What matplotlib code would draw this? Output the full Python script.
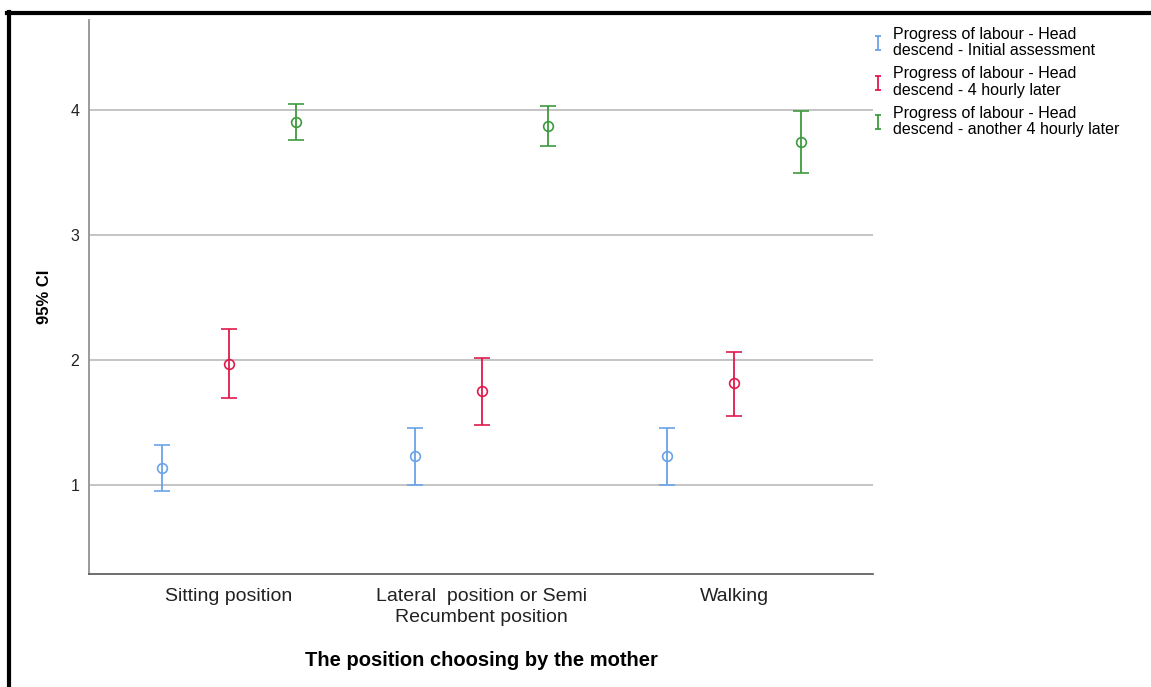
import matplotlib
matplotlib.use("Agg")
import matplotlib.pyplot as plt
from matplotlib.lines import Line2D
from matplotlib.path import Path
import numpy as np

plt.rcParams['font.family'] = ['Liberation Sans', 'DejaVu Sans']

categories = ["Sitting position", "Lateral  position or Semi\nRecumbent position", "Walking"]
series_names = [
    "Progress of labour - Head\ndescend - Initial assessment",
    "Progress of labour - Head\ndescend - 4 hourly later",
    "Progress of labour - Head\ndescend - another 4 hourly later",
]
colors = ["#6BA3E8", "#E01A4C", "#3E9A3E"]

# means and 95% CI bounds per series (rows) and category (columns)
initial_mean = [1.136, 1.232, 1.232]
initial_low = [0.952, 1.000, 1.000]
initial_high = [1.320, 1.456, 1.454]

later4_mean = [1.968, 1.752, 1.813]
later4_low = [1.696, 1.480, 1.555]
later4_high = [2.248, 2.016, 2.067]

later8_mean = [3.904, 3.872, 3.746]
later8_low = [3.760, 3.712, 3.494]
later8_high = [4.048, 4.032, 3.992]

means = [initial_mean, later4_mean, later8_mean]
lows = [initial_low, later4_low, later8_low]
highs = [initial_high, later4_high, later8_high]
offsets = [-0.265, 0.0, 0.265]

fig = plt.figure(figsize=(11.51, 6.87), dpi=100)
ax = fig.add_axes([89/1151, 1-574/687, (873-89)/1151, (574-20)/687])

x = np.arange(len(categories))
for m, lo, hi, c, off in zip(means, lows, highs, colors, offsets):
    m = np.array(m); lo = np.array(lo); hi = np.array(hi)
    ax.errorbar(x + off, m, yerr=[m - lo, hi - m], fmt='o', color=c,
                mfc='none', mec=c, ms=7, mew=1.2, elinewidth=1.3,
                capsize=5.6, capthick=1.3, zorder=3)

ax.set_xlim(-0.554, 2.55)
ax.set_ylim(0.288, 4.72)
ax.set_yticks([1, 2, 3, 4])
ax.set_yticklabels(["1", "2", "3", "4"], fontsize=11.5)
ax.set_xticks(x)
ax.set_xticklabels(categories, fontsize=14, linespacing=1.35)
ax.tick_params(axis='both', length=0, colors='#222222')
ax.tick_params(axis='y', pad=7)
ax.tick_params(axis='x', pad=10)
ax.yaxis.grid(True, color='#C4C4C4', linewidth=1.4, zorder=0)
ax.set_axisbelow(True)
for s in ['top', 'right']:
    ax.spines[s].set_visible(False)
ax.spines['left'].set_color('#9A9A9A')
ax.spines['left'].set_linewidth(1.4)
ax.spines['bottom'].set_color('#555555')
ax.spines['bottom'].set_linewidth(1.2)

ax.set_ylabel("95% CI", fontsize=12, fontweight='bold', labelpad=13)
ax.set_xlabel("The position choosing by the mother", fontsize=14.5,
              fontweight='bold', labelpad=18)

# legend with error-bar glyphs
ibar = Path([(-0.5, -1), (0.5, -1), (0, -1), (0, 1), (-0.5, 1), (0.5, 1)],
            [Path.MOVETO, Path.LINETO, Path.MOVETO, Path.LINETO, Path.MOVETO, Path.LINETO])
handles = [Line2D([], [], linestyle='none', marker=ibar, markersize=10,
                  markeredgecolor=c, markerfacecolor='none', markeredgewidth=1.3)
           for c in colors]
leg = fig.legend(handles, series_names, loc='upper left',
                 bbox_to_anchor=(872/1151, 1-27/687), frameon=False,
                 fontsize=11.5, handlelength=0.8, handletextpad=0.5,
                 labelspacing=0.5, borderaxespad=0, borderpad=0)
for t in leg.get_texts():
    t.set_linespacing(1.12)

# black outer border (top and left)
fig.add_artist(Line2D([7/1151, 1], [1-13/687, 1-13/687], color='black',
                      linewidth=3, transform=fig.transFigure))
fig.add_artist(Line2D([9.3/1151, 9.3/1151], [0, 1-11.5/687], color='black',
                      linewidth=3, transform=fig.transFigure))

fig.savefig("out.png", dpi=100)
